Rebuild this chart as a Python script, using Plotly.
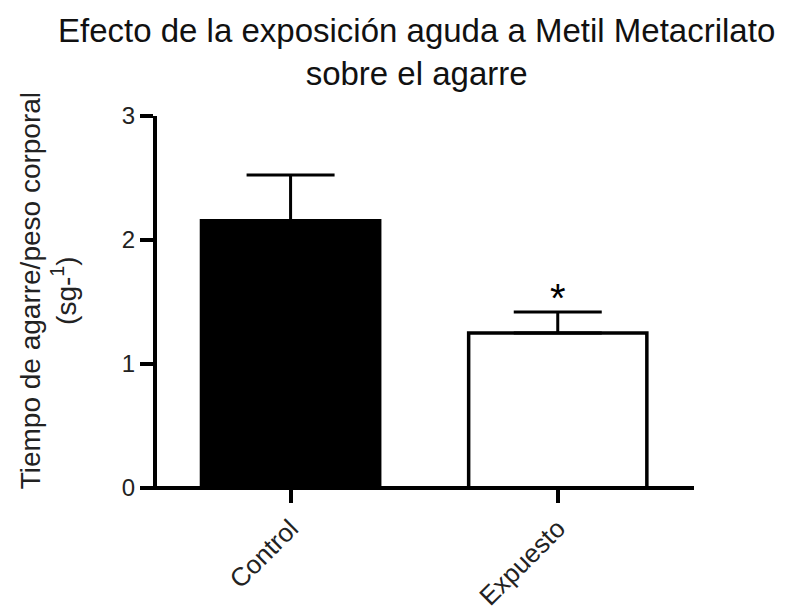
import plotly.graph_objects as go

# Grip time normalised by body weight (mean with upper SEM)
groups = ["Control", "Expuesto"]
means = [2.155, 1.25]
sem_upper = [0.37, 0.17]
y_ticks = [0, 1, 2, 3]
title_text = "Efecto de la exposición aguda a Metil Metacrilato<br>sobre el agarre"
y_title = "Tiempo de agarre/peso corporal<br>(sg-<sup>1</sup>)"
signif = ["", "*"]

FONT = "Liberation Sans, Arial, sans-serif"

fig = go.Figure()
fig.add_trace(go.Bar(
    x=groups,
    y=means,
    width=0.667,
    marker=dict(color=["black", "white"], line=dict(color="black", width=3.5)),
    error_y=dict(type="data", array=sem_upper, arrayminus=[0, 0], symmetric=False,
                 color="black", thickness=3, width=44),
    showlegend=False,
))

# significance mark above the exposed group
for g, m, e, s in zip(groups, means, sem_upper, signif):
    if s:
        fig.add_annotation(x=g, y=m + e, text=s, showarrow=False, yanchor="bottom",
                           yshift=-10, font=dict(family=FONT, size=40, color="black"))

# two-line chart title
fig.add_annotation(xref="paper", yref="paper", x=0.484, y=1.285, text=title_text,
                   showarrow=False, xanchor="center", yanchor="top",
                   font=dict(family=FONT, size=33, color="#111"))

# y-axis title (two lines)
fig.add_annotation(xref="paper", yref="paper", x=-0.202, y=0.53, text=y_title,
                   textangle=-90, showarrow=False, xanchor="center", yanchor="middle",
                   font=dict(family=FONT, size=28, color="#222"))

# x-axis baseline, extended to the end of the y ticks
fig.add_shape(type="line", xref="paper", yref="paper", x0=-0.025, x1=1.0, y0=0, y1=0,
              line=dict(color="black", width=4))

fig.update_layout(
    width=789, height=612,
    margin=dict(l=157, r=95, t=116, b=124, autoexpand=False),
    paper_bgcolor="white", plot_bgcolor="white",
    xaxis=dict(range=[-0.5, 1.51], automargin=False, showline=False, showgrid=False,
               zeroline=False, ticks="outside", ticklen=14, tickwidth=4, tickcolor="black",
               tickangle=-45, tickfont=dict(family=FONT, size=26, color="#222")),
    yaxis=dict(range=[0, 3], tickvals=y_ticks, automargin=False, showline=True, linewidth=4,
               linecolor="black", showgrid=False, zeroline=False, ticks="outside", ticklen=13,
               tickwidth=4, tickcolor="black", tickfont=dict(family=FONT, size=24, color="#222")),
)

fig.write_html("out.html")
